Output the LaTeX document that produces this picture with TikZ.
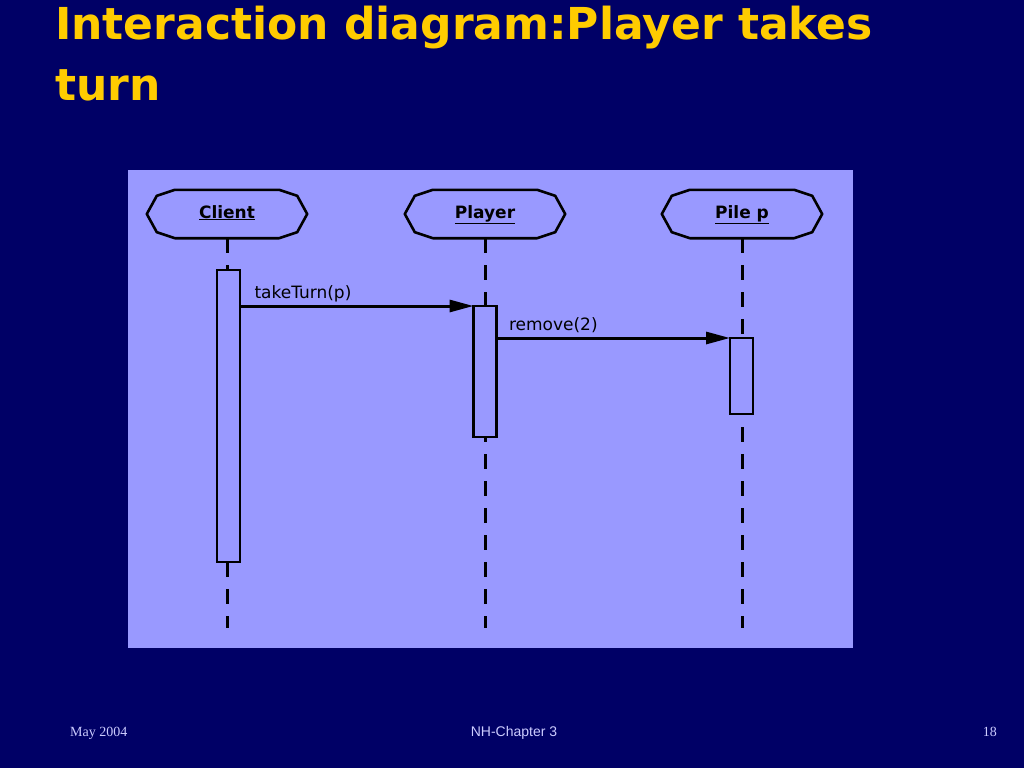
\documentclass[tikz,border=0pt]{standalone}
\usepackage{fontspec}
\setmainfont{DejaVu Sans}
\newfontfamily\footfont{Liberation Serif}
\newfontfamily\chapfont{Liberation Sans}
\usetikzlibrary{arrows.meta}

\definecolor{slidebg}{HTML}{000066}
\definecolor{panelblue}{HTML}{9999FF}
\definecolor{titleyellow}{HTML}{FFCC00}
\definecolor{footgrey}{HTML}{CCCCFF}

\begin{document}
\begin{tikzpicture}[
        x=1pt, y=-1pt,
        title/.style={
            anchor=base west,
            inner sep=0pt,
            text=titleyellow,
            font=\fontsize{44}{60}\selectfont\bfseries
        },
        head/.style={
            rectangle,
            minimum width=160pt,
            minimum height=48pt,
            inner sep=0pt,
            text height=13pt,
            text depth=5pt,
            font=\fontsize{17}{20}\selectfont\bfseries
        },
        headline/.style={draw=black, line width=2.6pt, line join=round},
        lifeline/.style={line width=3pt, dash pattern=on 15pt off 12pt},
        actbox/.style={
            rectangle,
            draw=black,
            fill=panelblue,
            line width=2.8pt,
            minimum width=23pt,
            inner sep=0pt,
            outer sep=0pt
        },
        msg/.style={line width=3pt, -{Triangle[length=24pt,width=12pt]}},
        msglabel/.style={anchor=base west, inner sep=0pt, font=\fontsize{17}{20}\selectfont},
        foot/.style={inner sep=0pt, text=footgrey, font=\footfont\fontsize{14}{16}\selectfont},
        chap/.style={inner sep=0pt, text=footgrey, font=\chapfont\fontsize{14}{16}\selectfont}
    ]

    % Slide
    \fill[slidebg] (0,0) rectangle (1024,768);
    \useasboundingbox (0,0) rectangle (1024,768);
    \fill[panelblue] (128,170) rectangle (853,648);

    \node[title] (title1) at (55,40) {Interaction diagram:Player takes};
    \node[title] (title2) at (55,100) {turn};

    % Objects
    \node[head] (client) at (227,214) {\underline{Client}};
    \node[head] (player) at (485,214) {\underline{Player}};
    \node[head] (pile) at (742,214) {\underline{Pile p}};

    \foreach \n in {client,player,pile} {
        \draw[headline] ([xshift=28pt]\n.north west) -- ([xshift=-28pt]\n.north east)
            -- ([xshift=-10pt,yshift=-6pt]\n.north east) -- (\n.east)
            -- ([xshift=-10pt,yshift=6pt]\n.south east) -- ([xshift=-28pt]\n.south east)
            -- ([xshift=28pt]\n.south west) -- ([xshift=10pt,yshift=6pt]\n.south west)
            -- (\n.west) -- ([xshift=10pt,yshift=-6pt]\n.north west) -- cycle;
    }

    % Lifelines
    \coordinate (clientend) at (227,628);
    \coordinate (playerend) at (485,628);
    \coordinate (pileend) at (742,628);
    \draw[lifeline] (client.south) -- (clientend);
    \draw[lifeline] (player.south) -- (playerend);
    \draw[lifeline] (pile.south) -- (pileend);

    % Activations
    \node[actbox, minimum height=292pt] (clientact) at (228.5,416) {};
    \node[actbox, minimum height=131pt] (playeract) at (485,371.5) {};
    \node[actbox, minimum height=76pt] (pileact) at (741.5,376) {};

    % Messages
    \draw[msg] (clientact.east |- playeract.north) -- (playeract.north west)
        node[msglabel, pos=0, xshift=13pt, yshift=8pt] {takeTurn(p)};
    \draw[msg] (playeract.east |- pileact.north) -- (pileact.north west)
        node[msglabel, pos=0, xshift=11pt, yshift=8pt] {remove(2)};

    % Footer
    \node[foot, anchor=base west] (date) at (70,736) {May 2004};
    \node[chap, anchor=base] (chapter) at (514,736) {NH-Chapter 3};
    \node[foot, anchor=base east] (page) at (997,736) {18};

\end{tikzpicture}
\end{document}
